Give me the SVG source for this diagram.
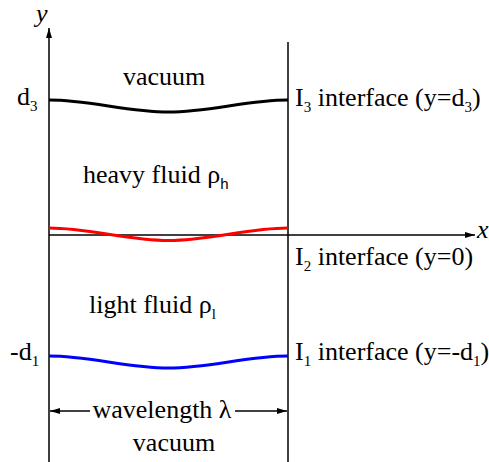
<svg xmlns="http://www.w3.org/2000/svg" width="489" height="462" viewBox="0 0 489 462">
<style>
text{font-family:'Liberation Serif','Times New Roman','DejaVu Serif',serif;font-size:26px;fill:#000}
.it{font-style:italic}
.sub{font-size:15px}
.ax{stroke:#000;stroke-width:1.5;fill:none}
.wave{fill:none;stroke-width:3}
</style>
<defs>
<marker id="ah" viewBox="0 0 10 6" refX="10" refY="3" markerWidth="10" markerHeight="6" markerUnits="userSpaceOnUse" orient="auto"><path d="M0,0L10,3L0,6z" fill="#000"/></marker>
</defs>
<rect width="489" height="462" fill="#fff"/>
<g id="connectors">
<line class="ax" x1="49" y1="462" x2="49" y2="28" marker-end="url(#ah)"/>
<line class="ax" x1="288" y1="42" x2="288" y2="462"/>
<line class="ax" x1="49" y1="235" x2="475" y2="235" marker-end="url(#ah)"/>
<line class="ax" x1="90" y1="411" x2="50" y2="411" stroke-width="1.2" marker-end="url(#ah)"/>
<line class="ax" x1="235" y1="411" x2="287" y2="411" stroke-width="1.2" marker-end="url(#ah)"/>
</g>
<g id="interface3">
<path class="wave" stroke="#000" d="M49,100 C89,100 128,112 168.5,112 C209,112 248,100 288,100"/>
</g>
<g id="interface2">
<path class="wave" stroke="#f00" d="M49,228 C89,228 128,240.5 168.5,240.5 C209,240.5 248,228 288,228"/>
</g>
<g id="interface1">
<path class="wave" stroke="#00f" d="M49,356 C89,356 128,368 168.5,368 C209,368 248,356 288,356"/>
</g>
<g id="labels">
<text class="it" x="36" y="22">y</text>
<text class="it" x="477" y="238">x</text>
<text x="123" y="85">vacuum</text>
<text x="17" y="105">d<tspan class="sub" dy="6">3</tspan></text>
<text x="295" y="106">I<tspan class="sub" dy="6">3</tspan><tspan dy="-6"> interface (y=d</tspan><tspan class="sub" dy="6">3</tspan><tspan dy="-6">)</tspan></text>
<text x="83" y="183">heavy fluid ρ<tspan class="sub" dy="6" style="font-family:'Liberation Sans',sans-serif">h</tspan></text>
<text x="295" y="265">I<tspan class="sub" dy="6">2</tspan><tspan dy="-6"> interface (y=0)</tspan></text>
<text x="89" y="313">light fluid ρ<tspan class="sub" dy="6">l</tspan></text>
<text x="10" y="360">-d<tspan class="sub" dy="6">1</tspan></text>
<text x="295" y="360">I<tspan class="sub" dy="6">1</tspan><tspan dy="-6"> interface (y=-d</tspan><tspan class="sub" dy="6">1</tspan><tspan dy="-6">)</tspan></text>
<text x="162" y="418" text-anchor="middle">wavelength λ</text>
<text x="174" y="451" text-anchor="middle">vacuum</text>
</g>
</svg>
